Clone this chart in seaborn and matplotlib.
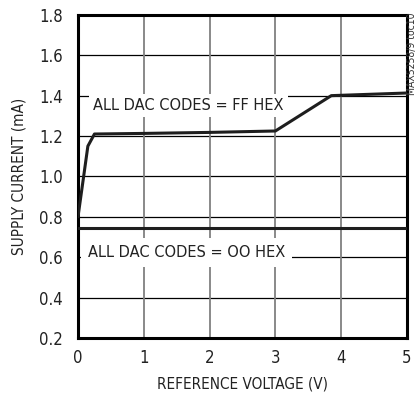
import matplotlib
matplotlib.use("Agg")
import matplotlib.pyplot as plt
import pandas as pd
import seaborn as sns

# data
ff_vref = [0.0, 0.15, 0.25, 1.0, 2.0, 3.0, 3.85, 5.0]
ff_current = [0.80, 1.15, 1.21, 1.213, 1.218, 1.225, 1.40, 1.413]
zero_vref = [0.0, 5.0]
zero_current = [0.745, 0.745]

x_ticks = [0, 1, 2, 3, 4, 5]
y_ticks = [0.2, 0.4, 0.6, 0.8, 1.0, 1.2, 1.4, 1.6, 1.8]

df = pd.concat([
    pd.DataFrame({"vref": ff_vref, "current": ff_current, "code": "FF"}),
    pd.DataFrame({"vref": zero_vref, "current": zero_current, "code": "00"}),
])

sns.set_style("white")
plt.rcParams["font.family"] = ["DejaVu Sans"]
plt.rcParams["font.stretch"] = "condensed"

fig = plt.figure(figsize=(4.18, 4.01), dpi=100)
ax = fig.add_axes([0.1866, 0.157, 0.787, 0.806])

for y in y_ticks:
    ax.axhline(y, color="black", lw=0.9, zorder=1)
for x in x_ticks:
    ax.axvline(x, color="#808080", lw=1.3, zorder=1)

sns.lineplot(data=df, x="vref", y="current", hue="code", palette={"FF": "#1e1e1e", "00": "#1e1e1e"},
             lw=2.2, legend=False, ax=ax, zorder=3, estimator=None, sort=False)

ax.set_xlim(0, 5)
ax.set_ylim(0.2, 1.8)
ax.set_xticks(x_ticks)
ax.set_yticks(y_ticks)
ax.set_yticklabels([f"{v:.1f}" for v in y_ticks])
ax.tick_params(labelsize=12, length=0, labelcolor="#222222")
ax.tick_params(axis="y", pad=11)
ax.tick_params(axis="x", pad=8)
ax.set_xlabel("REFERENCE VOLTAGE (V)", fontsize=11, labelpad=7, color="#222222")
ax.set_ylabel("SUPPLY CURRENT (mA)", fontsize=11, labelpad=9, color="#222222")
for s in ax.spines.values():
    s.set_linewidth(2.2)
    s.set_color("black")

ax.text(0.23, 1.33, "ALL DAC CODES = FF HEX", fontsize=11.7, va="baseline", color="#222222", zorder=4,
        bbox=dict(facecolor="white", edgecolor="none", pad=3))
ax.text(0.15, 0.602, "ALL DAC CODES = OO HEX", fontsize=11.7, va="baseline", color="#222222", zorder=4,
        bbox=dict(facecolor="white", edgecolor="none", pad=5))

fig.text(0.998, 0.97, "MAX5258/9 toc10", rotation=90, fontsize=7.5, ha="right", va="top", color="#333333")

fig.savefig("out.png", dpi=100)
